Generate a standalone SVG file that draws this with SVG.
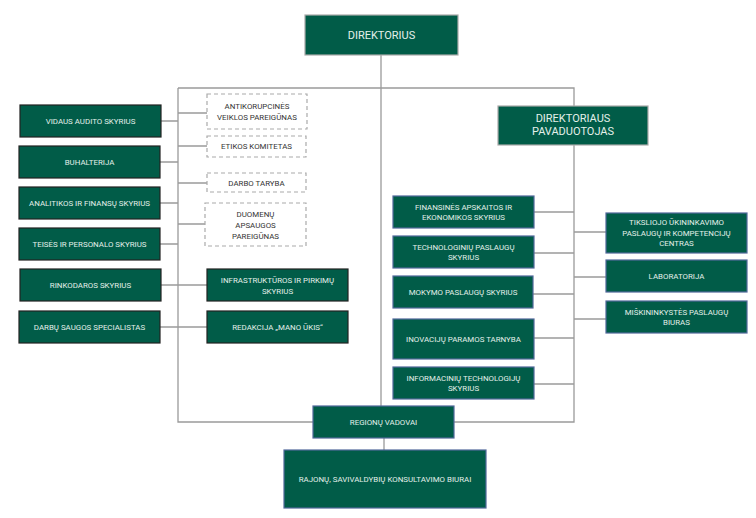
<svg xmlns="http://www.w3.org/2000/svg" width="756" height="518" viewBox="0 0 756 518">
<style>
.g{fill:#015c48;stroke-width:1.2}
.gl{stroke:#222}
.gd{stroke:#aaaaaa}
.gr{stroke:#50689a}
.d{fill:#fff;stroke:#aaaaaa;stroke-width:1.2;stroke-dasharray:4 3}
.t{font-family:Roboto,"Liberation Sans",sans-serif;font-size:7.9px;fill:#e4f0ea;text-anchor:middle}
.td{font-family:Roboto,"Liberation Sans",sans-serif;font-size:7.9px;fill:#333;text-anchor:middle}
.big{font-size:11px}
.c{fill:none;stroke:#9a9a9a;stroke-width:1.3}
</style>
<rect width="756" height="518" fill="#fff"/>
<g id="connectors" class="c">
<path d="M381 55V406"/>
<path d="M178 88H574V106"/>
<path d="M574 145V422H454"/>
<path d="M313 422H178V88"/>
<path d="M161 121H178M160 162H178M160 203H178M160 244H178M161 285H207M160 327H207"/>
<path d="M178 113H207M178 146H207M178 183H207M178 224H205"/>
<path d="M534 212H574M534 253H574M533 294H574M534 338H574M534 384H574"/>
<path d="M574 232H606M574 277H606M574 319H606"/>
<path d="M384 438V450"/>
</g>
<g id="direktorius"><rect class="g gd" x="305" y="15" width="153" height="40"/><text class="t big" x="381.5" y="39">DIREKTORIUS</text></g>
<g id="pavaduotojas"><rect class="g gd" x="498" y="106" width="150" height="39"/><text class="t big" x="573" y="122">DIREKTORIAUS</text><text class="t big" x="573" y="135">PAVADUOTOJAS</text></g>

<g id="vidaus"><rect class="g gl" x="20" y="105" width="141" height="32"/><text class="t" x="90.5" y="124">VIDAUS AUDITO SKYRIUS</text></g>
<g id="buhalterija"><rect class="g gl" x="19" y="146" width="141" height="32"/><text class="t" x="89.5" y="165">BUHALTERIJA</text></g>
<g id="analitikos"><rect class="g gl" x="19" y="187" width="141" height="32"/><text class="t" x="89.5" y="206">ANALITIKOS IR FINANSŲ SKYRIUS</text></g>
<g id="teises"><rect class="g gl" x="19" y="228" width="141" height="32"/><text class="t" x="89.5" y="247">TEISĖS IR PERSONALO SKYRIUS</text></g>
<g id="rinkodaros"><rect class="g gl" x="20" y="269" width="141" height="32"/><text class="t" x="90.5" y="288">RINKODAROS SKYRIUS</text></g>
<g id="darbu-saugos"><rect class="g gl" x="19" y="311" width="141" height="32"/><text class="t" x="89.5" y="330">DARBŲ SAUGOS SPECIALISTAS</text></g>

<g id="antikorupcines"><rect class="d" x="207" y="94" width="100" height="35"/><text class="td" x="257" y="109">ANTIKORUPCINĖS</text><text class="td" x="257" y="120">VEIKLOS PAREIGŪNAS</text></g>
<g id="etikos"><rect class="d" x="207" y="136" width="99" height="21"/><text class="td" x="256.5" y="149">ETIKOS KOMITETAS</text></g>
<g id="darbo-taryba"><rect class="d" x="207" y="173" width="99" height="19"/><text class="td" x="256.5" y="185.5">DARBO TARYBA</text></g>
<g id="duomenu"><rect class="d" x="205" y="203" width="101" height="43"/><text class="td" x="255.5" y="217">DUOMENŲ</text><text class="td" x="255.5" y="228">APSAUGOS</text><text class="td" x="255.5" y="239">PAREIGŪNAS</text></g>

<g id="infrastrukturos"><rect class="g gl" x="207" y="269" width="141" height="32"/><text class="t" x="277.5" y="283">INFRASTRUKTŪROS IR PIRKIMŲ</text><text class="t" x="277.5" y="293.5">SKYRIUS</text></g>
<g id="redakcija"><rect class="g gl" x="207" y="311" width="141" height="32"/><text class="t" x="277.5" y="330">REDAKCIJA „MANO ŪKIS“</text></g>

<g id="finansines"><rect class="g gr" x="393" y="196" width="141" height="32"/><text class="t" x="463.5" y="209.5">FINANSINĖS APSKAITOS IR</text><text class="t" x="463.5" y="220">EKONOMIKOS SKYRIUS</text></g>
<g id="technologiniu"><rect class="g gr" x="393" y="236" width="141" height="32"/><text class="t" x="463.5" y="249.5">TECHNOLOGINIŲ PASLAUGŲ</text><text class="t" x="463.5" y="260">SKYRIUS</text></g>
<g id="mokymo"><rect class="g gr" x="393" y="276" width="140" height="32"/><text class="t" x="463" y="295">MOKYMO PASLAUGŲ SKYRIUS</text></g>
<g id="inovaciju"><rect class="g gr" x="393" y="319" width="141" height="40"/><text class="t" x="463.5" y="341.5">INOVACIJŲ PARAMOS TARNYBA</text></g>
<g id="informaciniu"><rect class="g gr" x="393" y="367" width="141" height="32"/><text class="t" x="463.5" y="380.5">INFORMACINIŲ TECHNOLOGIJŲ</text><text class="t" x="463.5" y="391">SKYRIUS</text></g>

<g id="tiksliojo"><rect class="g gr" x="606" y="213" width="141" height="40"/><text class="t" x="676.5" y="225">TIKSLIOJO ŪKININKAVIMO</text><text class="t" x="676.5" y="235.5">PASLAUGŲ IR KOMPETENCIJŲ</text><text class="t" x="676.5" y="246">CENTRAS</text></g>
<g id="laboratorija"><rect class="g gr" x="606" y="260" width="141" height="32"/><text class="t" x="676.5" y="279">LABORATORIJA</text></g>
<g id="miskininkystes"><rect class="g gr" x="606" y="301" width="141" height="32"/><text class="t" x="676.5" y="314.5">MIŠKININKYSTĖS PASLAUGŲ</text><text class="t" x="676.5" y="325">BIURAS</text></g>

<g id="regionu"><rect class="g gr" x="313" y="406" width="141" height="32"/><text class="t" x="383.5" y="425">REGIONŲ VADOVAI</text></g>
<g id="rajonu"><rect class="g gr" x="284" y="450" width="202" height="58"/><text class="t" x="385" y="482">RAJONŲ, SAVIVALDYBIŲ KONSULTAVIMO BIURAI</text></g>
</svg>
